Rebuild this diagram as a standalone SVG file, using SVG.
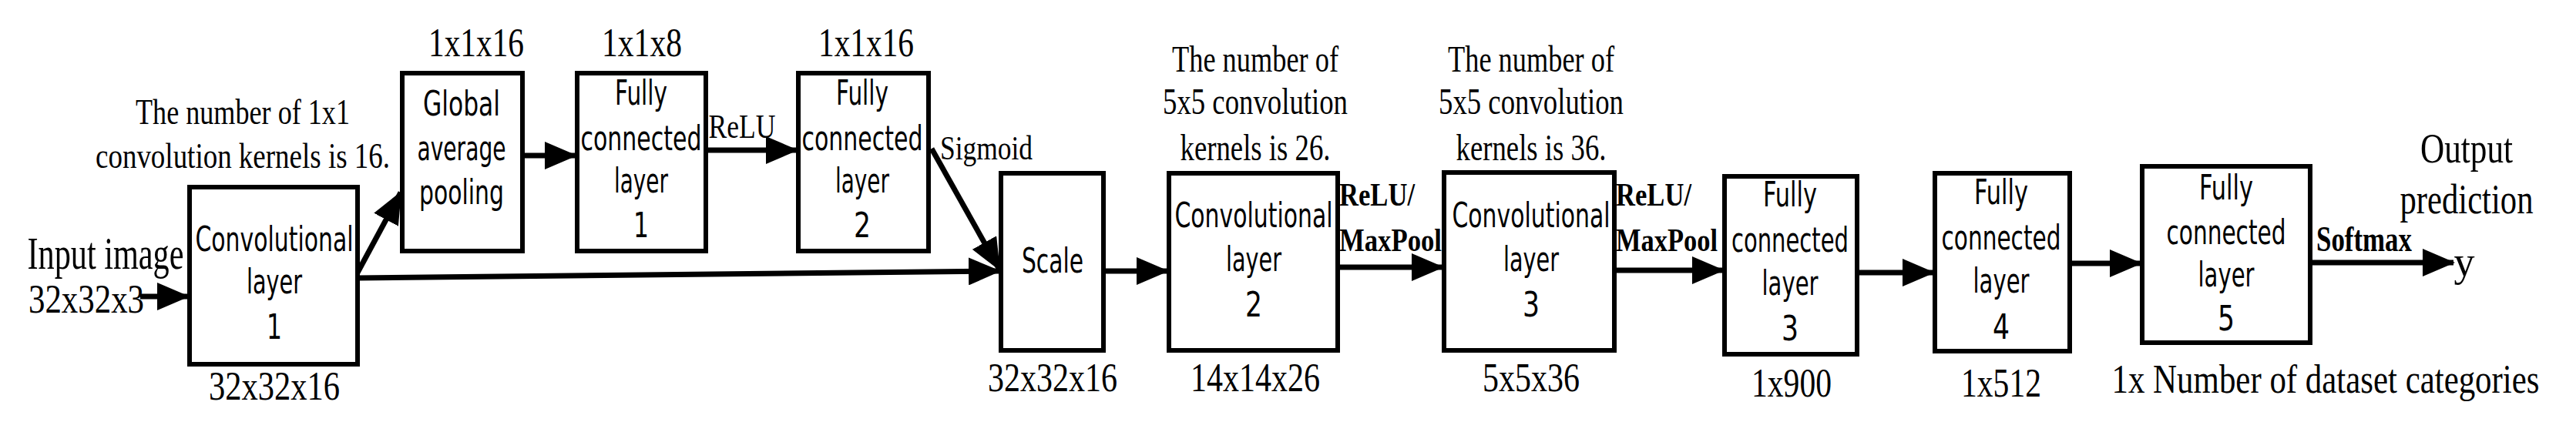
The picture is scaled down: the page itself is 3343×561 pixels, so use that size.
<svg xmlns="http://www.w3.org/2000/svg" width="3343" height="561" viewBox="0 0 3343 561">
<style>
.box{fill:#fff;stroke:#000;stroke-width:6}
.s{font-family:"DejaVu Sans","Liberation Sans",sans-serif;font-size:44px;text-anchor:middle;fill:#000}
.t{font-family:"Liberation Serif","Times New Roman",serif;font-size:50px;text-anchor:middle;fill:#000}
.b{font-family:"Liberation Serif","Times New Roman",serif;font-size:42px;font-weight:bold;fill:#000}
.c{stroke:#000;stroke-width:7;fill:none;marker-end:url(#ah)}
</style>
<defs>
<marker id="ah" markerUnits="userSpaceOnUse" markerWidth="42" markerHeight="36" refX="40" refY="18" orient="auto">
<path d="M0,0 L42,18 L0,36 Z" fill="#000"/>
</marker>
</defs>
<rect width="3343" height="561" fill="#fff"/>
<g id="connectors">
<line class="c" x1="182" y1="385" x2="244" y2="385"/>
<line class="c" x1="464" y1="354" x2="520" y2="250"/>
<line class="c" x1="464" y1="361" x2="1297" y2="352"/>
<line class="c" x1="678" y1="202" x2="747" y2="202"/>
<line class="c" x1="916" y1="195" x2="1034" y2="195"/>
<line class="c" x1="1209" y1="193" x2="1297" y2="350"/>
<line class="c" x1="1432" y1="352" x2="1515" y2="352"/>
<line class="c" x1="1736" y1="347" x2="1872" y2="347"/>
<line class="c" x1="2095" y1="351" x2="2236" y2="351"/>
<line class="c" x1="2410" y1="354" x2="2509" y2="354"/>
<line class="c" x1="2686" y1="342" x2="2778" y2="342"/>
<line class="c" x1="2998" y1="341" x2="3184" y2="341"/>
</g>
<g id="labels">
<text class="t" x="137" y="349" textLength="203" lengthAdjust="spacingAndGlyphs" style="font-size:60px">Input image</text>
<text class="t" x="112" y="406" textLength="150" lengthAdjust="spacingAndGlyphs" style="font-size:52px">32x32x3</text>
<text class="t" x="315" y="161" textLength="278" lengthAdjust="spacingAndGlyphs" style="font-size:46px">The number of 1x1</text>
<text class="t" x="315" y="218" textLength="382" lengthAdjust="spacingAndGlyphs" style="font-size:46px">convolution kernels is 16.</text>
<text class="t" x="618" y="73" textLength="124" lengthAdjust="spacingAndGlyphs" style="font-size:52px">1x1x16</text>
<text class="t" x="833" y="73" textLength="104" lengthAdjust="spacingAndGlyphs" style="font-size:52px">1x1x8</text>
<text class="t" x="1124" y="73" textLength="124" lengthAdjust="spacingAndGlyphs" style="font-size:52px">1x1x16</text>
<text class="t" x="963" y="179" textLength="87" lengthAdjust="spacingAndGlyphs" style="font-size:44px">ReLU</text>
<text class="t" x="1280" y="207" textLength="120" lengthAdjust="spacingAndGlyphs" style="font-size:44px">Sigmoid</text>
<text class="t" x="356" y="519" textLength="170" lengthAdjust="spacingAndGlyphs" style="font-size:52px">32x32x16</text>
<text class="t" x="1366" y="508" textLength="168" lengthAdjust="spacingAndGlyphs" style="font-size:52px">32x32x16</text>
<text class="t" x="1629" y="508" textLength="168" lengthAdjust="spacingAndGlyphs" style="font-size:52px">14x14x26</text>
<text class="t" x="1987" y="508" textLength="126" lengthAdjust="spacingAndGlyphs" style="font-size:52px">5x5x36</text>
<text class="t" x="1629" y="93" textLength="216" lengthAdjust="spacingAndGlyphs" style="font-size:48px">The number of</text>
<text class="t" x="1629" y="148" textLength="240" lengthAdjust="spacingAndGlyphs" style="font-size:48px">5x5 convolution</text>
<text class="t" x="1629" y="208" textLength="195" lengthAdjust="spacingAndGlyphs" style="font-size:48px">kernels is 26.</text>
<text class="t" x="1987" y="93" textLength="216" lengthAdjust="spacingAndGlyphs" style="font-size:48px">The number of</text>
<text class="t" x="1987" y="148" textLength="240" lengthAdjust="spacingAndGlyphs" style="font-size:48px">5x5 convolution</text>
<text class="t" x="1987" y="208" textLength="195" lengthAdjust="spacingAndGlyphs" style="font-size:48px">kernels is 36.</text>
<text class="b" x="1738" y="267" textLength="98" lengthAdjust="spacingAndGlyphs">ReLU/</text>
<text class="b" x="1738" y="326" textLength="133" lengthAdjust="spacingAndGlyphs">MaxPool</text>
<text class="b" x="2097" y="267" textLength="98" lengthAdjust="spacingAndGlyphs">ReLU/</text>
<text class="b" x="2097" y="326" textLength="132" lengthAdjust="spacingAndGlyphs">MaxPool</text>
<text class="b" x="3006" y="326" textLength="124" lengthAdjust="spacingAndGlyphs" style="font-size:46px">Softmax</text>
<text class="t" x="2325" y="515" textLength="104" lengthAdjust="spacingAndGlyphs" style="font-size:52px">1x900</text>
<text class="t" x="2597" y="515" textLength="104" lengthAdjust="spacingAndGlyphs" style="font-size:52px">1x512</text>
<text class="t" x="3018" y="510" textLength="555" lengthAdjust="spacingAndGlyphs" style="font-size:52px">1x Number of dataset categories</text>
<text class="t" x="3201" y="211" textLength="120" lengthAdjust="spacingAndGlyphs" style="font-size:54px">Output</text>
<text class="t" x="3201" y="277" textLength="173" lengthAdjust="spacingAndGlyphs" style="font-size:54px">prediction</text>
<text class="t" x="3198" y="358" style="font-size:54px">y</text>
</g>
<g id="conv1">
<rect class="box" x="246" y="243" width="218" height="230"/>
<text class="s" x="356" y="326" textLength="205" lengthAdjust="spacingAndGlyphs">Convolutional</text>
<text class="s" x="356" y="381" textLength="72" lengthAdjust="spacingAndGlyphs">layer</text>
<text class="s" x="356" y="440" textLength="20" lengthAdjust="spacingAndGlyphs">1</text>
</g>
<g id="gap">
<rect class="box" x="522" y="95" width="156" height="231"/>
<text class="s" x="599" y="150" textLength="100" lengthAdjust="spacingAndGlyphs">Global</text>
<text class="s" x="599" y="208" textLength="115" lengthAdjust="spacingAndGlyphs">average</text>
<text class="s" x="599" y="265" textLength="110" lengthAdjust="spacingAndGlyphs">pooling</text>
</g>
<g id="fc1">
<rect class="box" x="749" y="95" width="167" height="231"/>
<text class="s" x="832" y="136" textLength="68" lengthAdjust="spacingAndGlyphs">Fully</text>
<text class="s" x="832" y="195" textLength="157" lengthAdjust="spacingAndGlyphs">connected</text>
<text class="s" x="832" y="250" textLength="70" lengthAdjust="spacingAndGlyphs">layer</text>
<text class="s" x="832" y="308" textLength="20" lengthAdjust="spacingAndGlyphs">1</text>
</g>
<g id="fc2">
<rect class="box" x="1036" y="95" width="169" height="231"/>
<text class="s" x="1119" y="136" textLength="68" lengthAdjust="spacingAndGlyphs">Fully</text>
<text class="s" x="1119" y="195" textLength="157" lengthAdjust="spacingAndGlyphs">connected</text>
<text class="s" x="1119" y="250" textLength="70" lengthAdjust="spacingAndGlyphs">layer</text>
<text class="s" x="1119" y="308" textLength="22" lengthAdjust="spacingAndGlyphs">2</text>
</g>
<g id="scale">
<rect class="box" x="1299" y="225" width="133" height="230"/>
<text class="s" x="1366" y="354" textLength="80" lengthAdjust="spacingAndGlyphs">Scale</text>
</g>
<g id="conv2">
<rect class="box" x="1517" y="225" width="219" height="230"/>
<text class="s" x="1627" y="295" textLength="205" lengthAdjust="spacingAndGlyphs">Convolutional</text>
<text class="s" x="1627" y="352" textLength="72" lengthAdjust="spacingAndGlyphs">layer</text>
<text class="s" x="1627" y="411" textLength="22" lengthAdjust="spacingAndGlyphs">2</text>
</g>
<g id="conv3">
<rect class="box" x="1874" y="224" width="221" height="231"/>
<text class="s" x="1987" y="295" textLength="205" lengthAdjust="spacingAndGlyphs">Convolutional</text>
<text class="s" x="1987" y="352" textLength="72" lengthAdjust="spacingAndGlyphs">layer</text>
<text class="s" x="1987" y="411" textLength="22" lengthAdjust="spacingAndGlyphs">3</text>
</g>
<g id="fc3">
<rect class="box" x="2238" y="229" width="172" height="231"/>
<text class="s" x="2323" y="268" textLength="70" lengthAdjust="spacingAndGlyphs">Fully</text>
<text class="s" x="2323" y="327" textLength="152" lengthAdjust="spacingAndGlyphs">connected</text>
<text class="s" x="2323" y="383" textLength="73" lengthAdjust="spacingAndGlyphs">layer</text>
<text class="s" x="2323" y="442" textLength="22" lengthAdjust="spacingAndGlyphs">3</text>
</g>
<g id="fc4">
<rect class="box" x="2511" y="225" width="175" height="231"/>
<text class="s" x="2597" y="265" textLength="70" lengthAdjust="spacingAndGlyphs">Fully</text>
<text class="s" x="2597" y="324" textLength="155" lengthAdjust="spacingAndGlyphs">connected</text>
<text class="s" x="2597" y="380" textLength="73" lengthAdjust="spacingAndGlyphs">layer</text>
<text class="s" x="2597" y="440" textLength="22" lengthAdjust="spacingAndGlyphs">4</text>
</g>
<g id="fc5">
<rect class="box" x="2780" y="216" width="218" height="229"/>
<text class="s" x="2889" y="259" textLength="70" lengthAdjust="spacingAndGlyphs">Fully</text>
<text class="s" x="2889" y="317" textLength="155" lengthAdjust="spacingAndGlyphs">connected</text>
<text class="s" x="2889" y="372" textLength="73" lengthAdjust="spacingAndGlyphs">layer</text>
<text class="s" x="2889" y="429" textLength="22" lengthAdjust="spacingAndGlyphs">5</text>
</g>
</svg>
